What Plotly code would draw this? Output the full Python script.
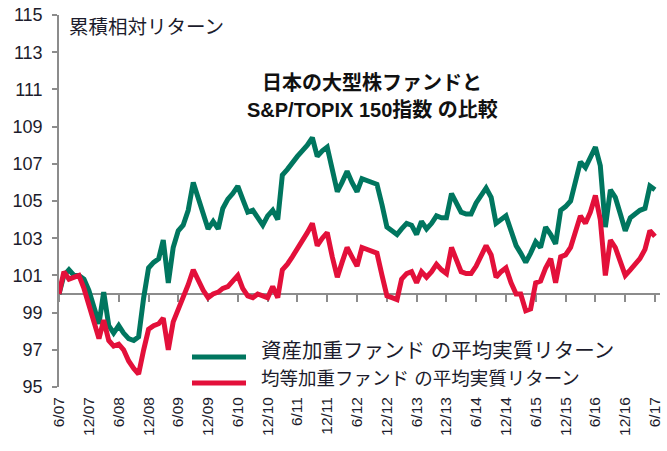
import pandas as pd
import plotly.graph_objects as go

# ---- data (monthly, 6/2007 .. 6/2017) ----
months = pd.date_range("2007-06-01", periods=121, freq="MS")

asset_weighted = [
    100.0, 101.0, 101.3, 101.0, 101.0, 100.8, 100.2, 99.2, 98.4, 100.1,
    98.3, 97.9, 98.3, 97.9, 97.6, 97.5, 97.7, 99.8, 101.4, 101.7,
    101.9, 102.9, 100.6, 102.5, 103.4, 103.7, 104.5, 106.0, 105.2, 104.4,
    103.5, 103.9, 103.5, 104.6, 105.1, 105.4, 105.8, 105.1, 104.4, 104.5,
    104.1, 103.7, 104.2, 104.5, 104.0, 106.4, 106.7, 107.1, 107.4, 107.7,
    108.0, 108.4, 107.4, 107.7, 107.9, 106.7, 105.5, 106.0, 106.6, 106.0,
    105.5, 106.2, 106.1, 106.0, 105.9, 104.8, 103.6, 103.4, 103.2, 103.5,
    103.8, 103.7, 103.2, 103.9, 103.5, 103.8, 104.2, 104.1, 104.1, 105.4,
    104.9, 104.4, 104.3, 104.3, 104.9, 105.3, 105.7, 105.2, 103.8, 104.0,
    104.2, 103.4, 102.6, 102.2, 101.7, 102.2, 102.8, 102.5, 103.6, 103.2,
    102.7, 104.5, 104.7, 105.0, 106.1, 107.1, 106.8, 107.3, 107.9, 106.9,
    103.6, 105.6, 105.2, 104.3, 103.4, 104.1, 104.3, 104.5, 104.6, 105.8,
    105.6,
]

equal_weighted = [
    100.0, 101.2, 100.8, 100.9, 101.0, 100.3, 99.4, 98.5, 97.6, 98.6,
    97.5, 97.2, 97.3, 97.0, 96.4, 96.0, 95.7, 97.0, 98.1, 98.3,
    98.4, 98.7, 97.0, 98.5, 99.2, 99.7, 100.5, 101.3, 100.7, 100.2,
    99.8, 100.0, 100.1, 100.3, 100.4, 100.7, 101.0, 100.3, 99.9, 99.8,
    100.0, 99.9, 99.8, 100.4, 99.8, 101.3, 101.6, 102.0, 102.4, 102.8,
    103.3, 103.8, 102.6, 103.0, 103.3, 102.0, 100.9, 101.7, 102.5, 102.0,
    101.5, 102.5, 102.4, 102.3, 102.2, 101.0, 99.9, 99.8, 99.7, 100.8,
    101.1, 101.2, 100.6, 101.2, 100.9, 101.2, 101.6, 101.3, 101.1, 102.5,
    101.8, 101.2, 101.1, 101.1, 101.5, 102.1, 102.6, 102.1, 100.9, 101.2,
    101.4, 100.6, 100.0, 100.0, 99.1, 99.2, 100.6, 100.7, 101.4, 101.9,
    100.6, 102.0, 102.1, 102.5, 103.4, 104.2, 103.8, 104.4, 105.3, 104.0,
    101.0, 102.9, 102.5, 101.7, 101.0, 101.3, 101.6, 101.9, 102.4, 103.4,
    103.1,
]

tick_dates = pd.date_range("2007-06-01", "2017-06-01", freq="6MS")
tick_labels = ["6/07", "12/07", "6/08", "12/08", "6/09", "12/09", "6/10", "12/10",
               "6/11", "12/11", "6/12", "12/12", "6/13", "12/13", "6/14", "12/14",
               "6/15", "12/15", "6/16", "12/16", "6/17"]
y_ticks = [95, 97, 99, 101, 103, 105, 107, 109, 111, 113, 115]

series_names = ["資産加重ファンド の平均実質リターン", "均等加重ファンド の平均実質リターン"]
y_title = "累積相対リターン"
title_lines = ["日本の大型株ファンドと", "S&P/TOPIX 150指数 の比較"]

GREEN = "#00765f"
RED = "#e3103a"
FONT = "Liberation Sans, Arial, Noto Sans CJK JP"
TXT = "#1c1c2c"

# ---- figure ----
W, H = 667, 451
ML, MR, MT, MB = 59, 7, 15, 64
PW, PH = W - ML - MR, H - MT - MB


def px(x):
    return (x - ML) / PW


def py(y):
    return (H - MB - y) / PH


fig = go.Figure()
fig.add_trace(go.Scatter(x=months, y=asset_weighted, mode="lines", name=series_names[0],
                         line=dict(color=GREEN, width=5), xaxis="x", yaxis="y"))
fig.add_trace(go.Scatter(x=months, y=equal_weighted, mode="lines", name=series_names[1],
                         line=dict(color=RED, width=5), xaxis="x2", yaxis="y"))

xrange = ["2007-06-01", "2017-07-02"]
fig.update_layout(
    width=W, height=H,
    margin=dict(l=ML, r=MR, t=MT, b=MB, autoexpand=False),
    paper_bgcolor="white", plot_bgcolor="white",
    showlegend=False,
    font=dict(family=FONT, color=TXT),
    xaxis=dict(range=xrange, tickvals=tick_dates, ticktext=tick_labels,
               tickangle=-90, showline=False, ticks="", showgrid=False, zeroline=False,
               tickfont=dict(size=15.5, color=TXT), ticklabelstandoff=6, automargin=False),
    xaxis2=dict(range=xrange, overlaying="x", anchor="free", position=(100 - 95) / (115 - 95),
                tickvals=tick_dates, showticklabels=False, showline=True,
                linecolor="#8c8c8c", linewidth=1.5, ticks="outside", ticklen=7,
                tickcolor="#8c8c8c", tickwidth=1.5, showgrid=False, zeroline=False,
                layer="below traces", automargin=False),
    yaxis=dict(range=[95, 115], tickvals=y_ticks, showline=True, linecolor="#8c8c8c",
               linewidth=1.5, ticks="outside", ticklen=5, tickcolor="#8c8c8c", tickwidth=1.5,
               showgrid=False, zeroline=False, tickfont=dict(size=18, color=TXT),
               ticklabelstandoff=6, automargin=False),
)

annotations = [
    dict(x=px(67), y=py(27), text=y_title, xanchor="left", yanchor="middle",
         font=dict(size=19.5, color=TXT)),
    dict(x=px(372), y=py(83), text="<b>" + title_lines[0] + "</b>", xanchor="center",
         yanchor="middle", font=dict(size=20, color="#111")),
    dict(x=px(372), y=py(110), text="<b>" + title_lines[1] + "</b>", xanchor="center",
         yanchor="middle", font=dict(size=20, color="#111")),
    dict(x=px(259), y=py(350), text=series_names[0], xanchor="left", yanchor="middle",
         font=dict(size=20.5, color=TXT)),
    dict(x=px(259), y=py(378), text=series_names[1], xanchor="left", yanchor="middle",
         font=dict(size=18.5, color=TXT)),
]
for a in annotations:
    a.update(xref="paper", yref="paper", showarrow=False)
fig.update_layout(annotations=annotations)

fig.add_shape(type="line", xref="paper", yref="paper", x0=px(192), x1=px(246),
              y0=py(357), y1=py(357), line=dict(color=GREEN, width=5))
fig.add_shape(type="line", xref="paper", yref="paper", x0=px(192), x1=px(246),
              y0=py(383), y1=py(383), line=dict(color=RED, width=5))

fig.write_html("out.html", config={"displayModeBar": False},
               post_script="document.body.style.margin='0';")
